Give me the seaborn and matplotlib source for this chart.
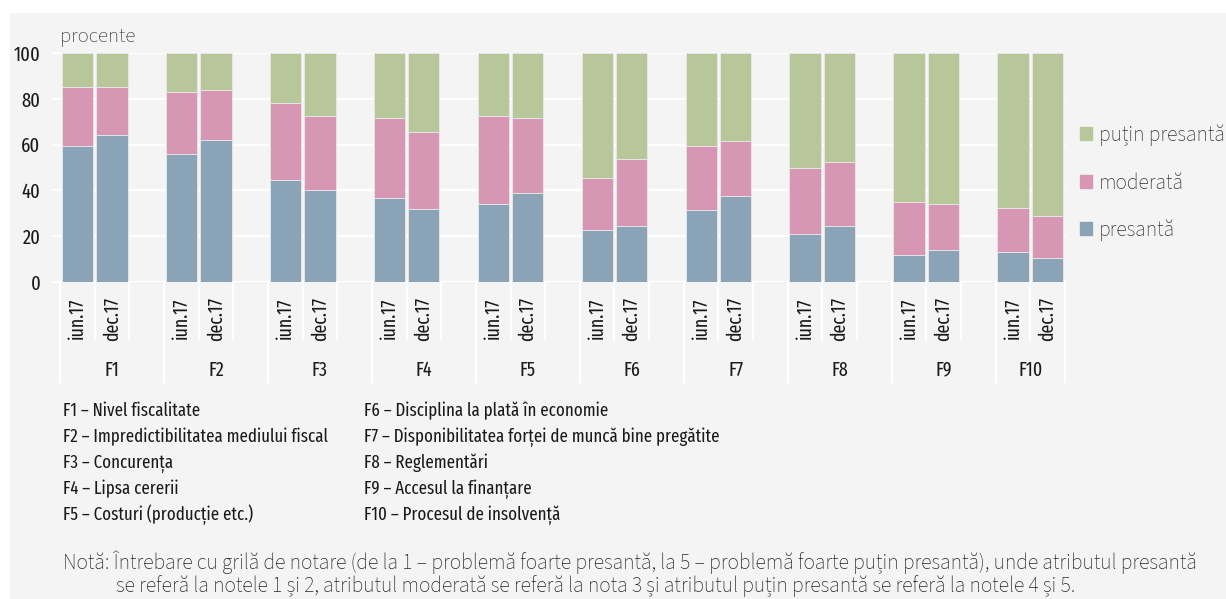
import pandas as pd
import numpy as np
import matplotlib
matplotlib.use('Agg')
import matplotlib.pyplot as plt
import matplotlib.patches as mpatches
import matplotlib.transforms as mtransforms
import seaborn as sns

# Data (procente)
factors = ['F1', 'F2', 'F3', 'F4', 'F5', 'F6', 'F7', 'F8', 'F9', 'F10']
periods = ['iun.17', 'dec.17']
presanta_iun = [59.5, 56, 44.5, 36.5, 34, 22.5, 31.5, 21, 12, 13]
presanta_dec = [64, 62, 40, 32, 39, 24.5, 37.5, 24.5, 14, 10.5]
moderata_iun = [25.5, 27, 33.5, 35, 38.5, 23, 28, 29, 23, 19.5]
moderata_dec = [21, 22, 32.5, 33.5, 32.5, 29, 24, 28, 20, 18.5]
putin_iun = [15, 17, 22, 28.5, 27.5, 54.5, 40.5, 50, 65, 67.5]
putin_dec = [15, 16, 27.5, 34.5, 28.5, 46.5, 38.5, 47.5, 66, 71]

factor_names = [
    'Nivel fiscalitate',
    'Impredictibilitatea mediului fiscal',
    'Concurența',
    'Lipsa cererii',
    'Costuri (producție etc.)',
    'Disciplina la plată în economie',
    'Disponibilitatea forței de muncă bine pregătite',
    'Reglementări',
    'Accesul la finanțare',
    'Procesul de insolvență',
]

series_labels = ['presantă', 'moderată', 'puțin presantă']
col_blue = '#8ba3b6'
col_pink = '#d696b4'
col_green = '#b7c799'
bg = '#f4f4f4'

# long table
rows = []
for i, f in enumerate(factors):
    for per, p, m, u in [('iun.17', presanta_iun[i], moderata_iun[i], putin_iun[i]),
                         ('dec.17', presanta_dec[i], moderata_dec[i], putin_dec[i])]:
        rows.append({'slot': f + ' ' + per, 'factor': f, 'period': per,
                     'presanta': p, 'moderata': m, 'putin': u})
df = pd.DataFrame(rows)
df['top_blue'] = df['presanta']
df['top_pink'] = df['presanta'] + df['moderata']
df['top_green'] = df['top_pink'] + df['putin']

# slot order with an empty slot after each group (except last)
order = []
for i, f in enumerate(factors):
    order += [f + ' iun.17', f + ' dec.17']
    if i < len(factors) - 1:
        order.append(f + ' gap')

W, H = 1226, 599
fig = plt.figure(figsize=(W / 100, H / 100), dpi=100)
fig.patch.set_facecolor('white')
fig.patches.append(mpatches.Rectangle((10 / W, 0), 1 - 10 / W, 1 - 13 / H,
                                      transform=fig.transFigure, facecolor=bg,
                                      edgecolor='none', zorder=-10))

ax = fig.add_axes([60 / W, 1 - 282 / H, 1005 / W, 229 / H])
ax.set_facecolor(bg)

narrow = ['Fira Sans Extra Condensed', 'Fira Sans Condensed', 'Liberation Sans Narrow', 'DejaVu Sans']
regular = ['Source Sans 3', 'Source Sans Pro', 'Open Sans', 'DejaVu Sans']
dark = '#1a1a1a'

for col, c in [('top_green', col_green), ('top_pink', col_pink), ('top_blue', col_blue)]:
    sns.barplot(data=df, x='slot', y=col, order=order, color=c, saturation=1,
                width=0.9, edgecolor='#e6e6e6', linewidth=0.7, errorbar=None,
                ax=ax, zorder=3)

ax.set_ylim(0, 100)
ax.set_xlim(-0.5, len(order) - 0.5)
ax.set_yticks([0, 20, 40, 60, 80, 100])
ax.grid(axis='y', color='white', linewidth=1.6, zorder=0)
ax.set_axisbelow(True)
for s in ax.spines.values():
    s.set_visible(False)
ax.tick_params(axis='y', length=5, width=1.6, color='white', pad=9)
for lab in ax.get_yticklabels():
    lab.set_family(narrow)
    lab.set_fontsize(14.5)
    lab.set_color(dark)

ticklabels = [s.split(' ')[1] if not s.endswith('gap') else '' for s in order]
ax.set_xticks(range(len(order)))
ax.set_xticklabels(ticklabels, rotation=90, family=narrow, fontsize=14, color=dark)
ax.tick_params(axis='x', length=0, pad=11)
ax.set_xlabel('')
ax.set_ylabel('')

# separators under the axis
trans = mtransforms.blended_transform_factory(ax.transData, ax.transAxes)
for k in range(len(order) + 1):
    x = k - 0.5
    depth = -0.437 if (k % 3 == 0 or k == len(order)) else -0.253
    ax.plot([x, x], [0, depth], color='white', lw=1.6, transform=trans, clip_on=False, zorder=1)

for i, f in enumerate(factors):
    cx = 3 * i + (1.0 if i < len(factors) - 1 else 0.5)
    ax.text(cx, -0.384, f, transform=trans, ha='center', va='center',
            family=narrow, fontsize=14, color=dark)

fig.text(60 / W, 1 - 37 / H, 'procente', family=regular, fontsize=15,
         color='#333333', va='center', ha='left')

handles = [mpatches.Patch(color=col_green, label='puțin presantă'),
           mpatches.Patch(color=col_pink, label='moderată'),
           mpatches.Patch(color=col_blue, label='presantă')]
leg = fig.legend(handles=handles, loc='center left', bbox_to_anchor=(1080 / W, 1 - 183 / H),
                 frameon=False, prop={'family': regular, 'size': 15.5},
                 handlelength=0.56, handleheight=0.56, handletextpad=0.33,
                 labelspacing=1.2, borderaxespad=0, borderpad=0)
for t in leg.get_texts():
    t.set_color('#333333')

# factor legend
for i in range(5):
    y = 1 - (416 + 26 * i) / H
    fig.text(63 / W, y, factors[i] + ' – ' + factor_names[i], family=narrow,
             fontsize=13.2, color=dark, va='baseline')
    fig.text(364 / W, y, factors[i + 5] + ' – ' + factor_names[i + 5], family=narrow,
             fontsize=13.2, color=dark, va='baseline')

fig.text(63 / W, 1 - 569 / H,
         'Notă: Întrebare cu grilă de notare (de la 1 – problemă foarte presantă, la 5 – problemă foarte puțin presantă), unde atributul presantă',
         family=regular, fontsize=15.5, color='#262626', va='baseline')
fig.text(116 / W, 1 - 592 / H,
         'se referă la notele 1 și 2, atributul moderată se referă la nota 3 și atributul puțin presantă se referă la notele 4 și 5.',
         family=regular, fontsize=15.5, color='#262626', va='baseline')

fig.savefig('out.png', dpi=100, facecolor=fig.get_facecolor())
